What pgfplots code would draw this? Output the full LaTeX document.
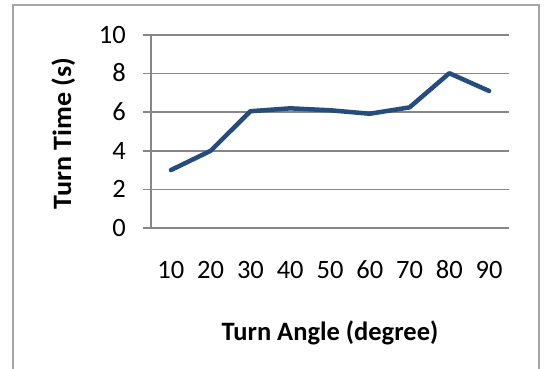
\documentclass[border=0pt]{standalone}
\usepackage{pgfplots}
\pgfplotsset{compat=1.18}
\usepackage{fontspec}
\setmainfont{Carlito}
\definecolor{gridgray}{RGB}{134,134,134}
\definecolor{framegray}{RGB}{165,165,165}
\definecolor{lineblue}{RGB}{36,76,124}
\begin{document}
\begin{tikzpicture}[x=1pt,y=1pt]
\useasboundingbox (0,0) rectangle (544,369);
\draw[framegray, line width=1.8pt] (13,-5) -- (13,364) -- (539,364) -- (539,-5);
\begin{axis}[
  at={(151pt,141pt)}, anchor=south west,
  width=358pt, height=193pt, scale only axis,
  xmin=0.5, xmax=9.5, ymin=0, ymax=10,
  xtick={1,2,3,4,5,6,7,8,9},
  xticklabels={10,20,30,40,50,60,70,80,90},
  ytick={0,2,4,6,8,10},
  axis x line*=bottom, axis y line*=left,
  axis line style={draw=gridgray, line width=1.5pt, -},
  xtick style={draw=none},
  ytick style={draw=gridgray, line width=1.5pt},
  tick align=outside, major tick length=8pt,
  ymajorgrids, grid style={draw=gridgray, line width=1.5pt},
  /pgf/number format/assume math mode=true,
  ticklabel style={font=\fontsize{26.5}{31}\selectfont, text=black, inner sep=0pt},
  xticklabel style={text height=16.8pt, text depth=0pt},
  yticklabel style={text height=16.8pt, text depth=0pt},
  xticklabel shift=26pt,
  yticklabel shift=17pt,
  label style={font=\fontsize{26.5}{31}\selectfont\bfseries, text=black},
  xlabel={Turn Angle (degree)},
  ylabel={Turn Time (s)},
  xlabel style={at={(axis description cs:0.5,-0.544)}, anchor=center},
  ylabel style={at={(axis description cs:-0.245,0.49)}, anchor=center, xscale=1.06},
  clip=false,
]
\addplot[lineblue, line width=4.5pt, line join=round, line cap=round, mark=none] coordinates {
  (1,3.0) (2,4.0) (3,6.05) (4,6.2) (5,6.1) (6,5.92) (7,6.25) (8,8.02) (9,7.1)
};
\end{axis}
\end{tikzpicture}
\end{document}
